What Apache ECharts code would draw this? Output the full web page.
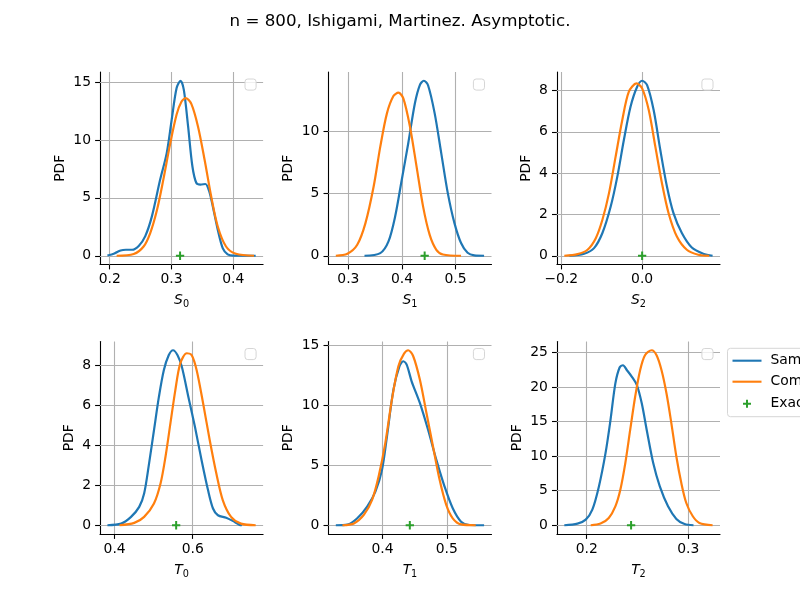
<!DOCTYPE html>
<html>
<head>
<meta charset="utf-8">
<script src="https://cdn.jsdelivr.net/npm/echarts@6/dist/echarts.min.js"></script>
<style>html,body{margin:0;padding:0;background:#fff}#c{width:800px;height:600px}</style>
</head>
<body>
<div id="c"></div>
<script>
// ---------------- data ----------------
const chartTitle = 'n = 800, Ishigami, Martinez. Asymptotic.';
const seriesNames = ['Sample', 'Computed', 'Exact'];
const panelLetters = ['S', 'S', 'S', 'T', 'T', 'T'];
const panelIndices = ['0', '1', '2', '0', '1', '2'];
const exactValues = [0.3139, 0.4424, 0.0, 0.5576, 0.4424, 0.2437];

const s0Sample = [[0.1963,0.02],[0.2076,0.2],[0.2176,0.46],[0.2263,0.52],[0.2363,0.52],[0.247,0.85],[0.2576,1.7],[0.2683,3.4],[0.2816,6.56],[0.2923,8.87],[0.3003,11.74],[0.3083,14.5],[0.3147,15.12],[0.32,14.33],[0.3269,11.17],[0.3339,7.71],[0.3403,6.28],[0.3469,6.15],[0.3549,6.2],[0.3609,5.6],[0.3669,4.26],[0.3749,2.25],[0.3829,0.66],[0.3909,0.12],[0.4,0.01],[0.4363,0]];
const s0Computed = [[0.2112,0],[0.2389,0.15],[0.2549,0.8],[0.2656,1.96],[0.2763,3.9],[0.2869,6.6],[0.2976,9.6],[0.3083,12.2],[0.3163,13.33],[0.3233,13.62],[0.3323,13.1],[0.3429,11.17],[0.3536,8.29],[0.3643,5.12],[0.3749,2.53],[0.3883,0.8],[0.4043,0.17],[0.4336,0]];
const s1Sample = [[0.3301,0],[0.3596,0.21],[0.3749,1.15],[0.3873,3.15],[0.3996,6.09],[0.4118,9.04],[0.4242,12.25],[0.4334,13.71],[0.4408,14.06],[0.4487,13.7],[0.4611,11.44],[0.4734,8.23],[0.4856,5.03],[0.498,2.62],[0.5103,1.02],[0.5225,0.24],[0.535,0.03],[0.5533,0]];
const s1Computed = [[0.2766,0],[0.2982,0.16],[0.3166,0.88],[0.3319,2.62],[0.3472,5.56],[0.3596,8.77],[0.372,11.44],[0.3841,12.83],[0.3934,13.1],[0.4026,12.65],[0.415,10.37],[0.4273,7.16],[0.4395,3.95],[0.4518,1.68],[0.4642,0.48],[0.4764,0.1],[0.5103,0]];
const s2Sample = [[-0.1803,0],[-0.1435,0.1],[-0.119,0.37],[-0.0983,1.1],[-0.0778,2.38],[-0.0614,3.83],[-0.0452,5.6],[-0.0287,7.21],[-0.0123,8.18],[0,8.47],[0.0123,8.26],[0.0285,7.05],[0.045,5.12],[0.0614,3.35],[0.0776,2.06],[0.0983,1.1],[0.1229,0.4],[0.1513,0.1],[0.1744,0]];
const s2Computed = [[-0.1926,0],[-0.1597,0.08],[-0.1351,0.29],[-0.1147,0.85],[-0.0983,1.74],[-0.082,3.03],[-0.0656,4.8],[-0.0491,6.57],[-0.0328,7.94],[-0.014,8.34],[0,8.1],[0.0164,7.05],[0.0327,5.28],[0.0491,3.51],[0.0655,2.06],[0.086,0.93],[0.1106,0.29],[0.139,0.05],[0.1661,0]];
const t0Sample = [[0.3816,0],[0.4169,0.08],[0.4421,0.42],[0.463,0.92],[0.4756,1.59],[0.4882,3.09],[0.5008,4.76],[0.5134,6.43],[0.526,7.77],[0.5385,8.52],[0.5496,8.77],[0.5612,8.52],[0.5723,7.93],[0.5889,6.43],[0.6058,4.92],[0.6227,3.26],[0.6393,1.75],[0.6519,0.84],[0.6645,0.5],[0.6856,0.38],[0.7023,0.22],[0.7191,0.03],[0.726,0]];
const t0Computed = [[0.4126,0],[0.4504,0.12],[0.4756,0.42],[0.5008,1.09],[0.5176,2.09],[0.5302,3.42],[0.5428,5.09],[0.5554,6.76],[0.568,8.1],[0.5849,8.62],[0.5975,8.52],[0.6101,7.77],[0.6267,6.1],[0.6436,4.26],[0.6605,2.59],[0.6771,1.25],[0.6982,0.42],[0.7234,0.08],[0.7612,0]];
const t1Sample = [[0.3272,0],[0.3452,0.05],[0.3606,0.58],[0.376,1.56],[0.3888,2.81],[0.3991,4.63],[0.4068,7.41],[0.4169,11.32],[0.4262,13.27],[0.4323,13.69],[0.4375,13.41],[0.4452,12.02],[0.458,10.21],[0.4708,7.97],[0.4837,5.46],[0.4965,3.23],[0.5092,1.42],[0.5222,0.3],[0.535,0.02],[0.558,0]];
const t1Computed = [[0.3375,0],[0.3554,0.15],[0.3708,0.86],[0.3837,2.12],[0.3938,4.07],[0.4042,6.86],[0.4145,10.49],[0.4246,13.27],[0.4334,14.33],[0.44,14.61],[0.4477,14.11],[0.458,12.16],[0.4683,9.37],[0.4785,6.58],[0.4888,3.79],[0.4991,1.7],[0.5092,0.58],[0.5222,0.07],[0.545,0]];
const t2Sample = [[0.1779,0],[0.1909,0.24],[0.199,0.82],[0.2055,2.26],[0.212,5.62],[0.2185,10.43],[0.2234,15.23],[0.2282,20.52],[0.2324,22.82],[0.2357,23.15],[0.2396,22.43],[0.2445,21.47],[0.2494,20.27],[0.2542,17.64],[0.2591,13.79],[0.2655,8.99],[0.272,5.62],[0.2801,2.74],[0.2883,0.92],[0.2964,0.17],[0.3052,0]];
const t2Computed = [[0.2039,0],[0.2136,0.24],[0.2217,1.06],[0.2282,2.74],[0.2331,5.14],[0.238,8.99],[0.2428,13.79],[0.2477,18.59],[0.2526,22.43],[0.2574,24.6],[0.264,25.32],[0.2688,24.6],[0.2737,22.43],[0.2786,19.07],[0.2834,14.75],[0.2883,9.94],[0.2932,6.1],[0.2981,3.22],[0.3045,1.3],[0.311,0.34],[0.324,0]];

const xTickLabels = [[0.2,0.3,0.4],[0.3,0.4,0.5],[-0.2,0.0],[0.4,0.6],[0.4,0.5],[0.2,0.3]];
const yTickLabels = [[0,5,10,15],[0,5,10],[0,2,4,6,8],[0,2,4,6,8],[0,5,10,15],[0,5,10,15,20,25]];
const sampleCurves = [s0Sample, s1Sample, s2Sample, t0Sample, t1Sample, t2Sample];
const computedCurves = [s0Computed, s1Computed, s2Computed, t0Computed, t1Computed, t2Computed];

// ---------------- layout / style ----------------
const FONT = 'DejaVu Sans';
const FS = 13.9;
const colLeft = [100, 328.4, 556.9], rowTop = [72, 341.5], W = 163.1, H = 192.5;
const colors = ['#1f77b4', '#ff7f0e', '#2ca02c'];
const plusPath = 'path://M-4,0L4,0M0,-4L0,4';
const lineIcon = 'path://M0,-1.05L29,-1.05L29,1.05L0,1.05Z';

function fmtX(v) {
  return v.toFixed(1).replace('-', '\u2212');
}

const grids = [], xAxes = [], yAxes = [], series = [], graphics = [];

for (let i = 0; i < 6; i++) {
  const r = Math.floor(i / 3), c = i % 3;
  const smp = sampleCurves[i], cmp = computedCurves[i];
  const xs = smp.map(p => p[0]).concat(cmp.map(p => p[0]), [exactValues[i]]);
  const ys = smp.map(p => p[1]).concat(cmp.map(p => p[1]), [0]);
  const xmin0 = Math.min(...xs), xmax0 = Math.max(...xs);
  const ymin0 = Math.min(...ys), ymax0 = Math.max(...ys);
  const mx = 0.05 * (xmax0 - xmin0), my = 0.05 * (ymax0 - ymin0);
  const maxYLabel = Math.max(...yTickLabels[i].map(v => String(v).length));

  grids.push({left: colLeft[c], top: rowTop[r], width: W, height: H, containLabel: false});
  xAxes.push({
    type: 'value', gridIndex: i, min: xmin0 - mx, max: xmax0 + mx,
    name: '{v|' + panelLetters[i] + '}{s|' + panelIndices[i] + '}',
    nameLocation: 'middle', nameGap: 27,
    nameTextStyle: {
      rich: {
        v: {fontFamily: FONT, fontStyle: 'italic', fontSize: FS, color: '#000', lineHeight: 18, verticalAlign: 'middle'},
        s: {fontFamily: FONT, fontSize: 9.7, color: '#000', lineHeight: 12, verticalAlign: 'bottom'}
      }
    },
    axisLine: {show: true, onZero: false, lineStyle: {color: '#000', width: 1.1}},
    axisTick: {show: true, length: 4.9, lineStyle: {color: '#000', width: 1.1}, customValues: xTickLabels[i]},
    axisLabel: {show: true, margin: 8, fontFamily: FONT, fontSize: FS, color: '#000', customValues: xTickLabels[i], formatter: fmtX},
    splitLine: {show: false}
  });
  yAxes.push({
    type: 'value', gridIndex: i, min: ymin0 - my, max: ymax0 + my,
    name: 'PDF', nameLocation: 'middle', nameGap: maxYLabel > 1 ? 33 : 24,
    nameTextStyle: {fontFamily: FONT, fontSize: FS, color: '#000'},
    axisLine: {show: true, onZero: false, lineStyle: {color: '#000', width: 1.1}},
    axisTick: {show: true, length: 4.9, lineStyle: {color: '#000', width: 1.1}, customValues: yTickLabels[i]},
    axisLabel: {show: true, margin: 9, fontFamily: FONT, fontSize: FS, color: '#000', customValues: yTickLabels[i], formatter: v => String(Math.round(v))},
    splitLine: {show: false}
  });
  series.push({
    name: seriesNames[0], type: 'line', xAxisIndex: i, yAxisIndex: i, data: smp,
    symbol: 'none', showSymbol: false, smooth: 0.3, z: 3,
    lineStyle: {color: colors[0], width: 2.2}, itemStyle: {color: colors[0]},
    markLine: {
      silent: true, symbol: ['none', 'none'], label: {show: false}, z: 1, animation: false,
      lineStyle: {color: '#b0b0b0', width: 1.1, type: 'solid'},
      emphasis: {disabled: true},
      data: xTickLabels[i].map(v => ({xAxis: v})).concat(yTickLabels[i].map(v => ({yAxis: v})))
    }
  });
  series.push({
    name: seriesNames[1], type: 'line', xAxisIndex: i, yAxisIndex: i, data: cmp,
    symbol: 'none', showSymbol: false, smooth: 0.3, z: 3,
    lineStyle: {color: colors[1], width: 2.2}, itemStyle: {color: colors[1]}
  });
  series.push({
    name: seriesNames[2], type: 'scatter', xAxisIndex: i, yAxisIndex: i, data: [[exactValues[i], 0]],
    symbol: plusPath, symbolSize: 8.3, z: 4,
    itemStyle: {color: colors[2], borderColor: colors[2], borderWidth: 2, opacity: 1}
  });
  // empty per-axes legend frame
  graphics.push({
    type: 'rect', silent: true, z: 50,
    shape: {x: colLeft[c] + W - 7 - 11.1, y: rowTop[r] + 7, width: 11.1, height: 11.1, r: 2.8},
    style: {fill: 'rgba(255,255,255,0.8)', stroke: '#d6d6d6', lineWidth: 1}
  });
}

const chart = echarts.init(document.getElementById('c'), null, {renderer: 'canvas'});
chart.setOption({
  animation: false,
  backgroundColor: '#fff',
  title: {
    text: chartTitle, left: 'center', top: 8,
    textStyle: {fontFamily: FONT, fontSize: 16.7, fontWeight: 'normal', color: '#000'}
  },
  legend: {
    data: [
      {name: seriesNames[0], icon: lineIcon, itemStyle: {color: colors[0], borderWidth: 0}},
      {name: seriesNames[1], icon: lineIcon, itemStyle: {color: colors[1], borderWidth: 0}},
      {name: seriesNames[2], icon: 'path://M-7,-7M7,7M-4,0L4,0M0,-4L0,4', itemStyle: {color: colors[2], borderColor: colors[2], borderWidth: 2, opacity: 1}}
    ],
    orient: 'vertical', left: 727.5, top: 348.3,
    padding: [5.4, 40, 5, 5], itemWidth: 29, itemHeight: 14, itemGap: 7,
    borderColor: '#d6d6d6', borderWidth: 1, borderRadius: 3, backgroundColor: '#fff',
    selectedMode: false,
    textStyle: {fontFamily: FONT, fontSize: FS, color: '#000', padding: [0, 0, 0, 4]}
  },
  grid: grids, xAxis: xAxes, yAxis: yAxes, series: series,
  graphic: graphics
});
</script>
</body>
</html>
